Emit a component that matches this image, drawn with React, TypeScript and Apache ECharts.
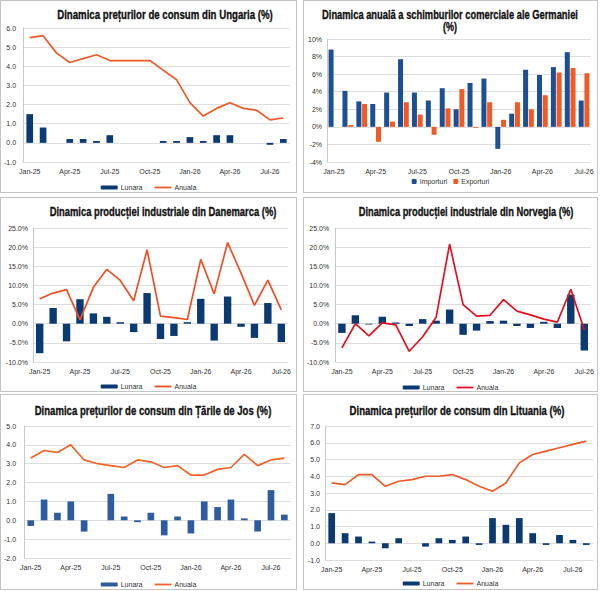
import { useEffect, useRef } from "react";
import * as echarts from "echarts";

// categories
const MONTHS = [
  "Jan-25", "Feb-25", "Mar-25", "Apr-25", "May-25", "Jun-25", "Jul-25",
  "Aug-25", "Sep-25", "Oct-25", "Nov-25", "Dec-25", "Jan-26", "Feb-26",
  "Mar-26", "Apr-26", "May-26", "Jun-26", "Jul-26", "Aug-26",
];
const MONTHS_19 = MONTHS.slice(0, 19);

// Ungaria
const huMonthly = [1.5, 0.8, 0, 0.2, 0.2, 0.1, 0.4, 0, 0, 0, 0.1, 0.1, 0.3, 0.1, 0.4, 0.4, 0, 0, -0.1, 0.2];
const huAnnual = [5.5, 5.6, 4.7, 4.2, 4.4, 4.6, 4.3, 4.3, 4.3, 4.3, 3.8, 3.3, 2.1, 1.4, 1.8, 2.1, 1.8, 1.7, 1.2, 1.3];

// Germania
const deImports = [8.8, 4.1, 2.9, 2.6, 3.9, 7.7, 3.9, 3.0, 4.4, 2.0, 5.0, 5.5, -2.5, 1.5, 6.5, 5.9, 6.8, 8.5, 3.0];
const deExports = [0, 0.2, 2.6, -1.7, 0.6, 2.8, 1.4, -0.9, 2.1, 4.3, -0.1, 2.8, 0.8, 2.8, 2.0, 3.6, 6.2, 6.7, 6.1];

// Danemarca
const dkMonthly = [-7.7, 4.1, -4.6, 6.4, 2.7, 1.8, 0.4, -2.2, 8.0, -4.0, -3.2, 0.4, 6.5, -4.4, 7.1, -0.8, -3.7, 5.4, -4.8];
const dkAnnual = [6.5, 8.0, 8.9, 1.0, 9.5, 14.2, 11.3, 6.0, 19.3, 2.0, 1.6, 1.1, 16.8, 7.8, 21.2, 13.2, 4.8, 11.4, 3.6];

// Norvegia
const noMonthly = [-2.4, 2.2, -0.2, 1.8, 0.3, -0.6, 1.2, 0.8, 3.7, -2.9, -1.8, 0.7, 0.8, -0.6, -1.1, 0.5, -1.1, 7.6, -7.0];
const noAnnual = [-6.3, 0.0, -3.2, 0.2, -0.3, -7.2, -3.4, 1.7, 20.8, 5.0, 2.0, 2.2, 6.3, 3.3, 2.3, 1.2, 0.4, 9.0, -1.6];

// Tarile de Jos
const nlMonthly = [-0.3, 1.1, 0.4, 1.0, -0.6, 0, 1.4, 0.2, -0.1, 0.4, -0.8, 0.2, -0.7, 1.0, 0.7, 1.1, 0.1, -0.6, 1.6, 0.3];
const nlAnnual = [3.3, 3.7, 3.6, 4.0, 3.2, 3.0, 2.9, 2.8, 3.2, 3.1, 2.8, 2.9, 2.4, 2.4, 2.7, 2.8, 3.5, 2.9, 3.2, 3.3];

// Lituania
const ltMonthly = [1.8, 0.6, 0.4, 0.1, -0.3, 0.3, 0, -0.2, 0.3, 0.2, 0.4, -0.1, 1.5, 1.1, 1.5, 0.6, -0.1, 0.5, 0.2, -0.1];
const ltAnnual = [3.6, 3.5, 4.1, 4.1, 3.4, 3.7, 3.8, 4.0, 4.0, 4.1, 3.8, 3.4, 3.1, 3.6, 4.8, 5.3, 5.5, 5.7, 5.9, 6.1];

const NAVY = "#0b3a72";
const AXIS_FONT = '"Liberation Sans", Arial, sans-serif';
const TITLE_FONT = 'bold 13px "Liberation Sans", Arial, sans-serif';
const LINE_ICON = "path://M0 0H17V1.8H0Z";

type TitleLine = { text: string; x: number; y: number; width: number };

type PanelCfg = {
  x: number;
  y: number;
  w: number;
  h: number;
  titles: TitleLine[];
  grid: { left: number; right: number; top: number; bottom: number };
  min: number;
  max: number;
  interval: number;
  fmt: (v: number) => string;
  labelMargin: number;
  legendY: number;
  categories: string[];
  series: any[];
  legendData: any[];
  legendSquare?: boolean;
};

function comboSeries(monthly: number[], annual: number[], barColor: string, lineColor: string, barWidth: string) {
  return [
    {
      name: "Lunara",
      type: "bar",
      data: monthly,
      barWidth,
      itemStyle: { color: barColor },
    },
    {
      name: "Anuala",
      type: "line",
      data: annual,
      symbol: "none",
      lineStyle: { color: lineColor, width: 1.7 },
      itemStyle: { color: lineColor },
    },
  ];
}

const COMBO_LEGEND = [{ name: "Lunara" }, { name: "Anuala", icon: LINE_ICON }];

const PANELS: PanelCfg[] = [
  {
    x: 0, y: 0, w: 297, h: 193,
    titles: [{ text: "Dinamica prețurilor de consum din Ungaria (%)", x: 164, y: 13, width: 216 }],
    grid: { left: 21, right: 6, top: 27, bottom: 30 },
    min: -1, max: 6, interval: 1, fmt: (v) => v.toFixed(1), labelMargin: 7,
    legendY: 187, categories: MONTHS, legendData: COMBO_LEGEND,
    series: comboSeries(huMonthly, huAnnual, NAVY, "#ef5a2a", "50%"),
  },
  {
    x: 303, y: 0, w: 295, h: 193,
    titles: [
      { text: "Dinamica anuală a schimburilor comerciale ale Germaniei", x: 146, y: 13, width: 256 },
      { text: "(%)", x: 146, y: 25, width: 14 },
    ],
    grid: { left: 23, right: 6, top: 38, bottom: 30 },
    min: -4, max: 10, interval: 2, fmt: (v) => `${v}%`, labelMargin: 5,
    legendY: 181, categories: MONTHS_19, legendSquare: true,
    legendData: [{ name: "Importuri" }, { name: "Exporturi" }],
    series: [
      { name: "Importuri", type: "bar", data: deImports, barWidth: 5, barGap: "15%", itemStyle: { color: "#1d4f94" } },
      { name: "Exporturi", type: "bar", data: deExports, barWidth: 5, itemStyle: { color: "#f15a24" } },
    ],
  },
  {
    x: 0, y: 197, w: 297, h: 195,
    titles: [{ text: "Dinamica producției industriale din Danemarca (%)", x: 162, y: 13, width: 227 }],
    grid: { left: 32, right: 8, top: 30, bottom: 29 },
    min: -10, max: 25, interval: 5, fmt: (v) => `${v.toFixed(1)}%`, labelMargin: 5,
    legendY: 189, categories: MONTHS_19, legendData: COMBO_LEGEND,
    series: comboSeries(dkMonthly, dkAnnual, NAVY, "#ef4f25", "55%"),
  },
  {
    x: 303, y: 197, w: 295, h: 195,
    titles: [{ text: "Dinamica producției industriale din Norvegia (%)", x: 162, y: 13, width: 215 }],
    grid: { left: 31, right: 6, top: 30, bottom: 29 },
    min: -10, max: 25, interval: 5, fmt: (v) => `${v.toFixed(1)}%`, labelMargin: 6,
    legendY: 190, categories: MONTHS_19, legendData: COMBO_LEGEND,
    series: comboSeries(noMonthly, noAnnual, NAVY, "#e2101f", "55%"),
  },
  {
    x: 0, y: 394, w: 297, h: 196,
    titles: [{ text: "Dinamica prețurilor de consum din Țările de Jos (%)", x: 152, y: 15, width: 237 }],
    grid: { left: 22, right: 5, top: 31, bottom: 31 },
    min: -2, max: 5, interval: 1, fmt: (v) => v.toFixed(1), labelMargin: 8,
    legendY: 190, categories: MONTHS, legendData: COMBO_LEGEND,
    series: comboSeries(nlMonthly, nlAnnual, "#2e5d9f", "#f0642c", "50%"),
  },
  {
    x: 303, y: 394, w: 295, h: 196,
    titles: [{ text: "Dinamica prețurilor de consum din Lituania (%)", x: 153, y: 15, width: 215 }],
    grid: { left: 21, right: 4, top: 31, bottom: 29 },
    min: -1, max: 7, interval: 1, fmt: (v) => v.toFixed(1), labelMargin: 5,
    legendY: 189, categories: MONTHS, legendData: COMBO_LEGEND,
    series: comboSeries(ltMonthly, ltAnnual, NAVY, "#ef5a2a", "50%"),
  },
];

// condensed look: measure the bold text and squeeze it to the reference width
function measure(text: string, font: string) {
  const ctx = document.createElement("canvas").getContext("2d");
  if (!ctx) {
    return text.length * 7;
  }
  ctx.font = font;
  return ctx.measureText(text).width;
}

function Panel({ cfg }: { cfg: PanelCfg }) {
  const ref = useRef<HTMLDivElement | null>(null);

  useEffect(() => {
    if (!ref.current) {
      return;
    }

    const chart = echarts.init(ref.current, null, { renderer: "svg" });

    chart.setOption({
      animation: false,
      backgroundColor: "#ffffff",
      textStyle: { fontFamily: AXIS_FONT },
      grid: cfg.grid,
      graphic: cfg.titles.map((t) => ({
        type: "text",
        x: t.x,
        y: t.y,
        scaleX: Math.min(1, t.width / measure(t.text, TITLE_FONT)),
        style: {
          text: t.text,
          font: TITLE_FONT,
          fill: "#111111",
          stroke: "#111111",
          lineWidth: 0.35,
          align: "center",
          verticalAlign: "middle",
          textAlign: "center",
          textVerticalAlign: "middle",
        },
      })),
      legend: {
        left: "center",
        top: cfg.legendY - 4,
        padding: 0,
        data: cfg.legendData,
        itemWidth: cfg.legendSquare ? 5 : 17,
        itemHeight: cfg.legendSquare ? 5 : 4,
        itemGap: cfg.legendSquare ? 6 : 12,
        textStyle: { fontSize: 7, color: "#333333", fontFamily: AXIS_FONT, padding: [0, 0, 0, -2] },
      },
      xAxis: {
        type: "category",
        data: cfg.categories,
        axisLine: { show: false, onZero: false },
        axisTick: { show: false },
        axisLabel: {
          interval: 2,
          fontSize: 7,
          color: "#333333",
          margin: 6,
        },
      },
      yAxis: {
        type: "value",
        min: cfg.min,
        max: cfg.max,
        interval: cfg.interval,
        axisLine: { show: true, lineStyle: { color: "#c8c8c8" } },
        axisTick: { show: false },
        axisLabel: {
          fontSize: 7,
          color: "#333333",
          margin: cfg.labelMargin,
          formatter: cfg.fmt,
        },
        splitLine: { lineStyle: { color: "#dedede", width: 1 } },
      },
      series: cfg.series,
    });

    return () => {
      chart.dispose();
    };
  }, [cfg]);

  return (
    <div
      style={{
        position: "absolute",
        left: cfg.x,
        top: cfg.y,
        width: cfg.w,
        height: cfg.h,
        border: "1px solid #c4c4c4",
        boxSizing: "border-box",
        background: "#ffffff",
      }}
    >
      <div ref={ref} style={{ width: "100%", height: "100%" }} />
    </div>
  );
}

export default function App() {
  return (
    <div
      style={{
        position: "fixed",
        left: 0,
        top: 0,
        width: 600,
        height: 591,
        background: "#ffffff",
      }}
    >
      {PANELS.map((cfg, i) => (
        <Panel key={i} cfg={cfg} />
      ))}
    </div>
  );
}
